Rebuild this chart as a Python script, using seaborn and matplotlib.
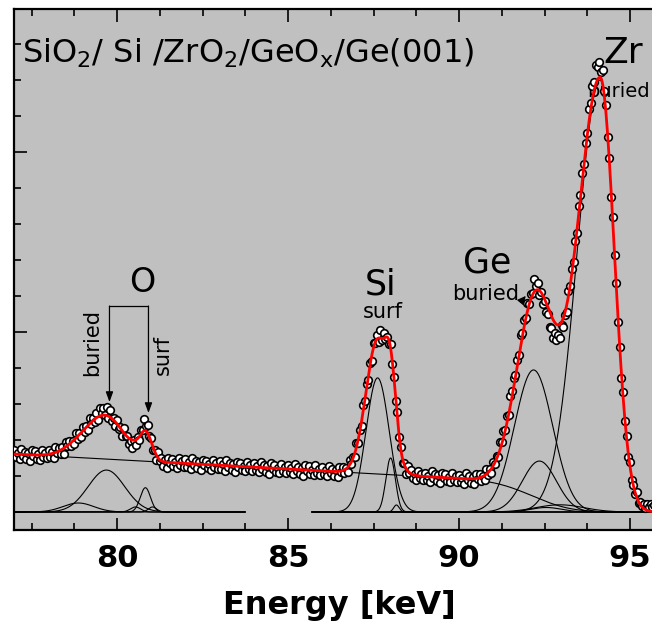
import math
import numpy as np
import pandas as pd
import matplotlib
matplotlib.use("Agg")
import matplotlib.pyplot as plt
from matplotlib.ticker import MultipleLocator, NullFormatter
import seaborn as sns

# Measured spectrum: counts per 0.05 keV channel, starting at 77.0 keV
energy_start, energy_step = 77.0, 0.05
counts = [
    344, 304, 327, 293, 350, 312, 335, 295, 330, 286, 343, 313, 337, 297, 321, 291, 345, 306, 329, 298,  # 77
    344, 305, 331, 300, 361, 327, 355, 320, 362, 324, 388, 365, 396, 364, 397, 376, 439, 408, 440, 418,  # 78
    472, 442, 477, 453, 520, 491, 524, 502, 550, 512, 575, 548, 578, 538, 585, 521, 565, 508, 522, 479,  # 79
    512, 460, 471, 424, 469, 420, 424, 376, 395, 353, 400, 373, 418, 398, 456, 458, 515, 477, 482, 420,  # 80
    412, 346, 345, 290, 331, 283, 300, 257, 291, 245, 301, 271, 294, 254, 277, 247, 300, 260, 281, 249,  # 81
    292, 251, 275, 240, 298, 259, 283, 242, 278, 233, 291, 260, 284, 243, 267, 236, 290, 249, 271, 238,  # 82
    282, 241, 265, 230, 288, 249, 272, 232, 267, 223, 280, 250, 273, 233, 256, 226, 279, 239, 260, 228,  # 83
    271, 231, 254, 220, 277, 239, 262, 222, 257, 213, 270, 240, 263, 222, 246, 215, 269, 228, 250, 217,  # 84
    261, 220, 244, 209, 267, 228, 252, 211, 247, 202, 260, 229, 253, 212, 236, 205, 259, 218, 239, 207,  # 85
    250, 210, 233, 199, 256, 218, 241, 201, 236, 192, 252, 224, 250, 215, 244, 223, 289, 266, 308, 304,  # 86
    382, 382, 454, 476, 592, 619, 709, 735, 830, 839, 940, 940, 981, 947, 1010, 958, 994, 959, 974, 935,  # 87
    933, 821, 749, 617, 553, 416, 362, 271, 273, 212, 256, 216, 234, 190, 210, 177, 230, 188, 209, 176,  # 88
    219, 179, 202, 168, 225, 187, 210, 170, 205, 161, 218, 188, 211, 171, 194, 164, 217, 177, 198, 165,  # 89
    208, 168, 191, 157, 214, 176, 200, 160, 196, 153, 212, 184, 210, 174, 202, 177, 238, 206, 238, 219,  # 90
    278, 266, 310, 306, 391, 390, 449, 453, 536, 539, 646, 671, 745, 761, 842, 873, 982, 994, 1066, 1077,  # 91
    1162, 1157, 1209, 1214, 1293, 1253, 1271, 1206, 1223, 1153, 1172, 1109, 1099, 1025, 1021, 964, 997, 957, 983, 969,  # 92
    1037, 1030, 1093, 1110, 1227, 1255, 1352, 1386, 1507, 1548, 1699, 1761, 1883, 1932, 2048, 2103, 2238, 2273, 2364, 2388,  # 93
    2481, 2472, 2500, 2445, 2457, 2337, 2259, 2081, 1965, 1752, 1640, 1429, 1273, 1053, 918, 743, 665, 506, 421, 305,  # 94
    277, 177, 151, 100, 109, 50, 58, 35, 45, 24, 44, 26, 42, 25, 38, 25, 35,  # 95
]

# O region fit components: centre (keV), height (counts), sigma (keV)
o_centers = [78.87, 79.69, 80.54, 80.83, 81.04]
o_heights = [50, 233, 28, 135, 28]
o_sigmas = [0.45, 0.535, 0.15, 0.15, 0.12]
o_range = (77.0, 83.75)

# Si / Ge / Zr region components: centre, height, left and right sigma
hi_centers = [87.62, 88.00, 88.17, 92.18, 92.35, 92.95, 92.55, 94.13]
hi_heights = [745, 300, 39, 789, 283, 40, 25, 2400]
hi_sig_left = [0.34, 0.14, 0.08, 0.56, 0.50, 0.70, 0.45, 0.67]
hi_sig_right = [0.34, 0.14, 0.08, 0.56, 0.50, 0.70, 0.45, 0.41]
hi_range = (85.7, 96.0)

# Background: sloped line falling off through a smooth edge
bg_level, bg_slope, bg_edge, bg_width = 322.0, -10.4, 92.24, 1.24

x_ticks = [80, 85, 90, 95]


def peak(e, c, h, sl, sr):
    s = np.where(e < c, sl, sr)
    return h * np.exp(-0.5 * ((e - c) / s) ** 2)


def background(e):
    line = bg_level + bg_slope * (e - energy_start)
    step = 0.5 * np.array([math.erfc((v - bg_edge) / bg_width) for v in e])
    return line * step


sns.set_style("ticks")
plt.rcParams["font.family"] = ["DejaVu Sans"]
plt.rcParams["mathtext.fontset"] = "dejavusans"
plt.rcParams["text.color"] = "black"
plt.rcParams["axes.labelcolor"] = "black"

energy = energy_start + energy_step * np.arange(len(counts))
spec = pd.DataFrame({"energy": energy, "counts": counts})

fig = plt.figure(figsize=(6.52, 6.28), dpi=100)
ax = fig.add_axes([14.4 / 652, 98 / 628, 649.8 / 652, 521 / 628])
ax.set_facecolor("#c0c0c0")

ef = np.linspace(77.0, 96.0, 1901)
fit = background(ef)

# components of the O group
eo = np.linspace(*o_range, 700)
for c, h, s in zip(o_centers, o_heights, o_sigmas):
    fit = fit + peak(ef, c, h, s, s)
    sns.lineplot(x=eo, y=peak(eo, c, h, s, s), ax=ax, color="black",
                 lw=0.8, estimator=None, sort=False, zorder=2)

# components of the Si / Ge / Zr group
eh = np.linspace(*hi_range, 1100)
for c, h, sl, sr in zip(hi_centers, hi_heights, hi_sig_left, hi_sig_right):
    fit = fit + peak(ef, c, h, sl, sr)
    sns.lineplot(x=eh, y=peak(eh, c, h, sl, sr), ax=ax, color="black",
                 lw=0.8, estimator=None, sort=False, zorder=2)

sns.lineplot(x=ef, y=background(ef), ax=ax, color="black", lw=0.8,
             estimator=None, sort=False, zorder=2)

sns.scatterplot(data=spec, x="energy", y="counts", ax=ax, marker="o", s=30,
                facecolor="white", edgecolor="black", linewidth=1.2, zorder=3)

sns.lineplot(x=ef, y=fit, ax=ax, color="#ff0000", lw=2.0,
             estimator=None, sort=False, zorder=4)

# labels
small = 15
ax.text(77.23, 2494, r"SiO$_{2}$/ Si /ZrO$_{2}$/GeO$_{\mathregular{x}}$/Ge(001)",
        fontsize=23, ha="left", va="baseline", color="black", zorder=1)
ax.text(94.22, 2494, "Zr", fontsize=26, ha="left", va="baseline", zorder=1)
ax.text(95.58, 2306, "buried", fontsize=14, ha="right", va="baseline", zorder=1)
ax.text(80.74, 1222, "O", fontsize=24, ha="center", va="baseline", zorder=1)
ax.text(79.28, 944, "buried", fontsize=small, rotation=90,
        ha="center", va="center", zorder=1)
ax.text(81.33, 872, "surf", fontsize=small, rotation=90,
        ha="center", va="center", zorder=1)
ax.text(87.70, 1206, "Si", fontsize=25, ha="center", va="baseline", zorder=1)
ax.text(87.76, 1078, "surf", fontsize=small, ha="center", va="baseline", zorder=1)
ax.text(90.83, 1328, "Ge", fontsize=25, ha="center", va="baseline", zorder=1)
ax.text(90.77, 1178, "buried", fontsize=small, ha="center", va="baseline", zorder=1)

# bracket and arrows for the O doublet
ax.plot([79.78, 80.92], [1144, 1144], color="black", lw=0.9, zorder=5)
arrow = dict(arrowstyle="-|>,head_length=0.6,head_width=0.22", color="black",
             lw=0.9, shrinkA=0, shrinkB=0)
ax.annotate("", xy=(79.78, 611), xytext=(79.78, 1144), arrowprops=arrow, zorder=5)
ax.annotate("", xy=(80.92, 550), xytext=(80.92, 1144), arrowprops=arrow, zorder=5)
ax.annotate("", xy=(91.95, 1200), xytext=(91.80, 1165),
            arrowprops=dict(arrowstyle="-|>,head_length=0.5,head_width=0.25",
                            color="black", lw=0.8, shrinkA=0, shrinkB=0), zorder=5)

ax.set_xlim(77.0, 96.0)
ax.set_ylim(-100, 2794)
ax.set_xticks(x_ticks)
ax.set_xticklabels([str(t) for t in x_ticks], fontsize=22, fontweight="bold")
ax.xaxis.set_minor_locator(MultipleLocator(1.25))
ax.yaxis.set_major_locator(MultipleLocator(1000))
ax.yaxis.set_minor_locator(MultipleLocator(200))
ax.yaxis.set_major_formatter(NullFormatter())
ax.set_xlabel("Energy [keV]", fontsize=23, fontweight="bold", labelpad=12,
              color="black")
ax.set_ylabel("")

ax.tick_params(axis="both", which="both", direction="in", top=True,
               right=False, labelleft=False, width=1.2, color="black",
               labelcolor="black")
ax.tick_params(axis="both", which="major", length=9, pad=10)
ax.tick_params(axis="both", which="minor", length=5)
for side in ("left", "bottom", "top"):
    ax.spines[side].set_linewidth(1.6)
    ax.spines[side].set_color("black")
ax.spines["right"].set_visible(False)

fig.savefig("out.png", dpi=100)
